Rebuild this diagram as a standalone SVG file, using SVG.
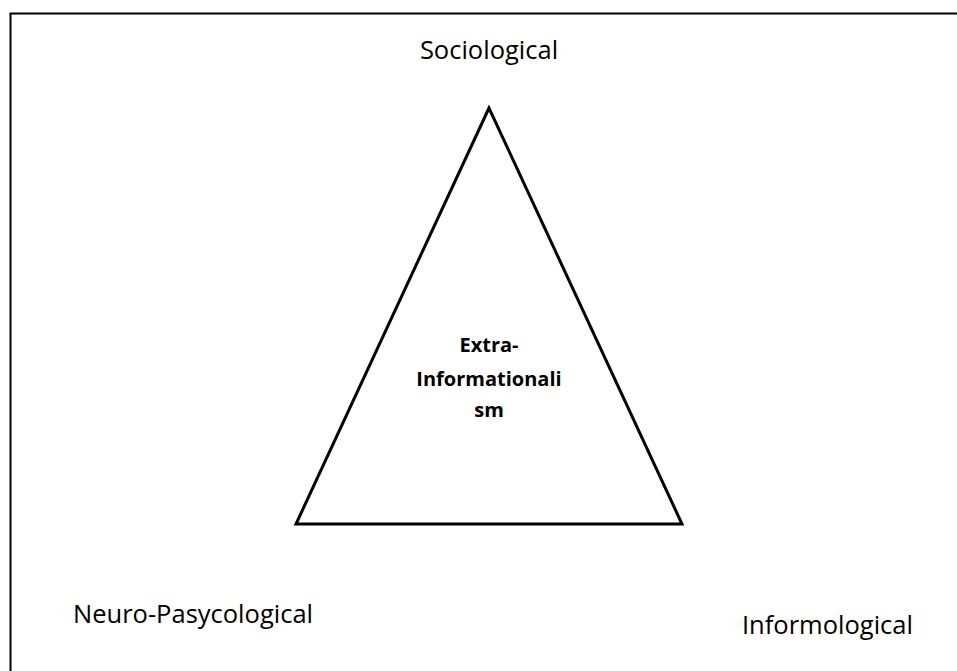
<svg xmlns="http://www.w3.org/2000/svg" width="957" height="671" viewBox="0 0 957 671">
<style>
.lbl{font-family:"Open Sans","Liberation Sans",sans-serif;font-size:25.5px;fill:#000}
.ctr{font-family:"Open Sans","Liberation Sans",sans-serif;font-size:20px;font-weight:bold;fill:#000;text-anchor:middle}
</style>
<rect x="0" y="0" width="957" height="671" fill="#fff"/>
<rect x="10.5" y="13.5" width="960" height="670" fill="none" stroke="#000" stroke-width="2"/>
<g id="triangle">
<polygon points="489,108 296,524 682,524" fill="#fff" stroke="#000" stroke-width="3" stroke-linejoin="miter"/>
<text class="ctr" x="489" y="352">Extra-</text>
<text class="ctr" x="489" y="386">Informationali</text>
<text class="ctr" x="489" y="417">sm</text>
</g>
<g id="sociological"><text class="lbl" x="489" y="59" text-anchor="middle">Sociological</text></g>
<g id="neuro"><text class="lbl" x="73" y="623">Neuro-Pasycological</text></g>
<g id="informological"><text class="lbl" x="742" y="634">Informological</text></g>
</svg>
